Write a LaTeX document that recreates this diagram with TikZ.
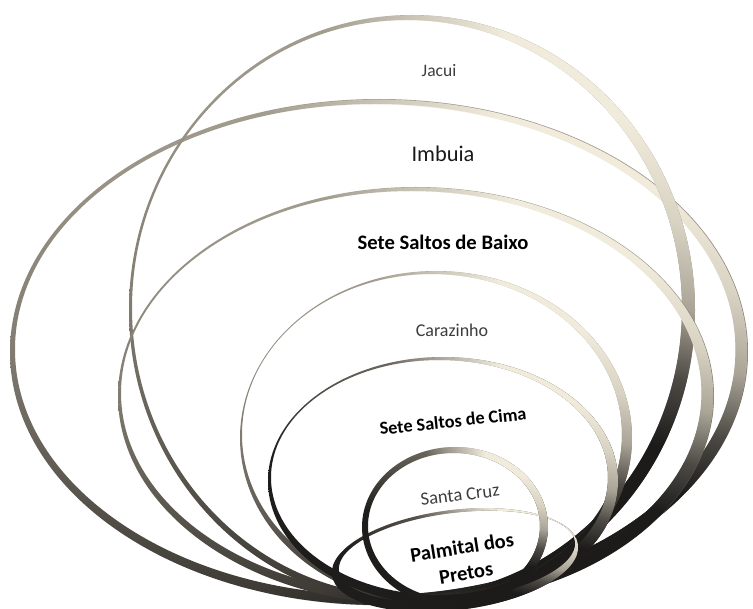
\documentclass[tikz,border=0pt]{standalone}
\usepackage{fontspec}
\setmainfont{Carlito}
\usetikzlibrary{fadings}

% ribbon colours
\definecolor{edgelight}{HTML}{A49E91}
\definecolor{edgemid}{HTML}{817B70}
\definecolor{edgedark}{HTML}{3A3732}
\definecolor{inkedgelight}{HTML}{6E6960}
\definecolor{inkedgedark}{HTML}{1E1D1B}
\definecolor{facek}{HTML}{1C1B19}
\definecolor{facedark}{HTML}{4D4A45}
\definecolor{facemid}{HTML}{A9A496}
\definecolor{facelight}{HTML}{D8D2C3}
\definecolor{cream}{HTML}{F1EBDC}
\definecolor{labelgrey}{HTML}{3C3C3C}

% thin edge of each ribbon: plain grey, darker towards the bottom
\pgfdeclareverticalshading{ribbonedge}{100bp}{%
  color(0bp)=(edgedark); color(25bp)=(edgedark); color(50bp)=(edgemid);
  color(75bp)=(edgelight); color(100bp)=(edgelight)}
% darker edge for the small inner ribbons
\pgfdeclareverticalshading{ribbonedgeink}{100bp}{%
  color(0bp)=(inkedgedark); color(25bp)=(inkedgedark); color(55bp)=(inkedgedark);
  color(75bp)=(inkedgelight); color(100bp)=(inkedgelight)}
% broad face of each ribbon: cream on top, black at the bottom
\pgfdeclareverticalshading{ribbonface}{100bp}{%
  color(0bp)=(facek); color(25bp)=(facek); color(43bp)=(facek);
  color(49bp)=(facedark); color(55bp)=(facemid); color(62bp)=(facelight);
  color(70bp)=(cream); color(100bp)=(cream)}
% the face only shows on the right-hand side
\pgfdeclarehorizontalshading{facemask}{100bp}{%
  color(0bp)=(black); color(42bp)=(black); color(58bp)=(white);
  color(100bp)=(white)}
\pgfdeclarefading{facefade}{\pgfuseshading{facemask}}

\tikzset{
  ring base/.style={even odd rule, shading=ribbonedge},
  ring ink/.style={even odd rule, shading=ribbonedgeink},
  ring face/.style={even odd rule, shading=ribbonface, shading angle=-12,
    path fading=facefade, fit fading=true},
  lbl/.style={inner sep=0pt, align=center},
}

% [#1] edge style; #2,#3 centre; #4,#5 radii; #6 inner shift left;
% #7 x thinning; #8 inner shift up; #9 y thinning
\newcommand\ribbonring[9][ring base]{%
  \path[#1] (#2,#3) ellipse [x radius=#4pt, y radius=#5pt]
    ({#2-#6},{#3-#8}) ellipse [x radius=#4pt-#7pt, y radius=#5pt-#9pt];
  \path[ring face] (#2,#3) ellipse [x radius=#4pt, y radius=#5pt]
    ({#2-#6},{#3-#8}) ellipse [x radius=#4pt-#7pt, y radius=#5pt-#9pt];
}

\begin{document}
\begin{tikzpicture}[x=1pt, y=-1pt]
\useasboundingbox (0,0) rectangle (753,609);

% rings, outermost first
\ribbonring{379}{352}{369}{253}{3.5}{8.5}{2.5}{7.5}   % Imbuia
\ribbonring{412}{310}{283}{295}{5}{8}{2}{7}           % Jacui
\ribbonring{416}{396}{298}{209}{4.5}{7.5}{3}{7}       % Sete Saltos de Baixo
\ribbonring{436}{438}{196}{167}{4}{6}{3.5}{6.5}       % Carazinho
\ribbonring[ring ink]{443}{481}{175}{124}{3.5}{6.5}{3.5}{6.5}   % Sete Saltos de Cima
\begin{scope}[rotate around={7:(455,560)}]
  \ribbonring[ring ink]{455}{560}{124}{50}{-2.5}{5}{3.5}{6.5}   % Palmital dos Pretos
\end{scope}
\ribbonring[ring ink]{455}{527}{93}{80}{1}{7}{1}{7}             % Santa Cruz

% labels
\node[lbl, text=labelgrey, font=\fontsize{17.5}{21}\selectfont] (jacui) at (439,71) {Jacui};
\node[lbl, text=black!90, font=\fontsize{22.4}{27}\selectfont] (imbuia) at (443,154) {Imbuia};
\node[lbl, font=\bfseries\fontsize{20.6}{25}\selectfont] (baixo) at (443,242) {Sete Saltos de Baixo};
\node[lbl, text=labelgrey, font=\fontsize{18}{22}\selectfont] (carazinho) at (452,330) {Carazinho};
\node[lbl, rotate=6, font=\bfseries\fontsize{18.2}{22}\selectfont] (cima) at (453,421) {Sete Saltos de Cima};
\node[lbl, rotate=7, text=labelgrey, font=\fontsize{18.5}{22}\selectfont] (santacruz) at (460,495) {Santa Cruz};
\node[lbl, rotate=9, font=\bfseries\fontsize{20.5}{26}\selectfont] (palmital) at (464,560) {Palmital dos\\Pretos};
\end{tikzpicture}
\end{document}
